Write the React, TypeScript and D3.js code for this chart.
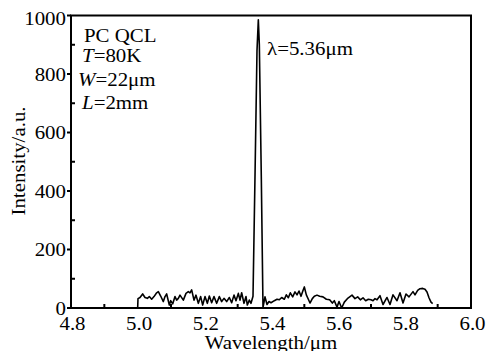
import React, { useEffect, useRef } from 'react'
import * as d3 from 'd3'

// spectrum (wavelength in um, intensity in a.u.)
const wavelength = [
  5.0, 5.001, 5.007, 5.015, 5.022, 5.029, 5.035, 5.042, 5.049, 5.057, 5.062, 5.069, 5.077, 5.082,
  5.087, 5.095, 5.099, 5.105, 5.112, 5.117, 5.122, 5.127, 5.137, 5.145, 5.152, 5.157, 5.162,
  5.169, 5.175, 5.182, 5.189, 5.195, 5.202, 5.209, 5.215, 5.222, 5.229, 5.237, 5.245, 5.252,
  5.259, 5.267, 5.275, 5.282, 5.289, 5.295, 5.302, 5.307, 5.312, 5.319, 5.325, 5.329, 5.335,
  5.34, 5.346, 5.352, 5.358, 5.362, 5.365, 5.371, 5.376, 5.382, 5.388, 5.394, 5.4, 5.41, 5.418,
  5.425, 5.432, 5.44, 5.446, 5.452, 5.458, 5.465, 5.472, 5.478, 5.484, 5.49, 5.496, 5.5, 5.506,
  5.512, 5.517, 5.524, 5.53, 5.538, 5.546, 5.556, 5.566, 5.576, 5.584, 5.59, 5.598, 5.604, 5.612,
  5.62, 5.631, 5.643, 5.652, 5.66, 5.668, 5.676, 5.684, 5.692, 5.7, 5.706, 5.712, 5.718, 5.727,
  5.736, 5.748, 5.757, 5.766, 5.778, 5.787, 5.796, 5.805, 5.814, 5.826, 5.832, 5.84, 5.847,
  5.855, 5.862, 5.868, 5.874, 5.88, 5.885,
]
const intensity = [
  0, 32, 36, 48, 36, 33, 39, 30, 39, 52, 56, 41, 22, 39,
  48, 10, 25, 14, 39, 27, 33, 44, 27, 50, 56, 52, 62,
  27, 44, 16, 39, 10, 39, 16, 41, 18, 39, 16, 39, 22,
  33, 22, 36, 18, 44, 25, 50, 27, 52, 16, 39, 10, 27,
  16, 40, 450, 880, 985, 900, 440, 2, 38, 12, 22, 18, 25, 30,
  28, 36, 30, 45, 35, 52, 38, 55, 45, 58, 40, 60, 72, 45,
  30, 17, 32, 40, 44, 40, 38, 30, 28, 17, 25, 3, 22, 0,
  20, 34, 44, 32, 38, 28, 35, 25, 30, 28, 25, 32, 28, 42,
  12, 36, 12, 45, 25, 52, 17, 48, 38, 56, 45, 60, 66,
  67, 64, 55, 35, 20, 15,
]

const xTicks = [4.8, 5.0, 5.2, 5.4, 5.6, 5.8, 6.0]
const xMinor = [4.9, 5.1, 5.3, 5.5, 5.7, 5.9]
const yTicks = [0, 200, 400, 600, 800, 1000]
const yMinor = [100, 300, 500, 700, 900]

const W = 487
const H = 351
const FONT = '"Liberation Serif", "Times New Roman", serif'

const App = () => {
  const ref = useRef<SVGSVGElement | null>(null)

  useEffect(() => {
    const svg = d3.select(ref.current)
    svg.selectAll('*').remove()

    const x = d3.scaleLinear().domain([4.8, 6.0]).range([71, 471])
    const y = d3.scaleLinear().domain([0, 1000]).range([308, 15.5])

    // text with the slightly wide look of the original
    const label = (
      tx: number,
      ty: number,
      anchor: string,
      rotate = 0
    ) => {
      const g = svg
        .append('g')
        .attr('transform', `translate(${tx},${ty}) rotate(${rotate}) scale(1.1,1)`)
      return g
        .append('text')
        .attr('text-anchor', anchor)
        .style('font-family', FONT)
        .style('font-size', '19px')
        .attr('fill', '#000')
    }

    // data line
    const pts = wavelength.map((w, i) => [w, intensity[i]] as [number, number])
    const line = d3
      .line<[number, number]>()
      .x((d) => x(d[0]))
      .y((d) => y(d[1]))

    svg
      .append('path')
      .datum(pts)
      .attr('d', line)
      .attr('fill', 'none')
      .attr('stroke', '#000')
      .attr('stroke-width', 1.6)
      .attr('stroke-linejoin', 'round')

    // frame
    svg
      .append('rect')
      .attr('x', x(4.8))
      .attr('y', y(1000))
      .attr('width', x(6.0) - x(4.8))
      .attr('height', y(0) - y(1000))
      .attr('fill', 'none')
      .attr('stroke', '#000')
      .attr('stroke-width', 2)

    // ticks
    svg
      .selectAll('.ymaj')
      .data(yTicks)
      .enter()
      .append('line')
      .attr('x1', x(4.8) - 4)
      .attr('x2', x(4.8))
      .attr('y1', (d) => y(d))
      .attr('y2', (d) => y(d))
      .attr('stroke', '#000')
      .attr('stroke-width', 2)

    svg
      .selectAll('.ymin')
      .data(yMinor)
      .enter()
      .append('line')
      .attr('x1', x(4.8))
      .attr('x2', x(4.8) + 4)
      .attr('y1', (d) => y(d))
      .attr('y2', (d) => y(d))
      .attr('stroke', '#000')
      .attr('stroke-width', 2)

    svg
      .selectAll('.xmin')
      .data(xMinor)
      .enter()
      .append('line')
      .attr('x1', (d) => x(d))
      .attr('x2', (d) => x(d))
      .attr('y1', y(0))
      .attr('y2', y(0) - 4)
      .attr('stroke', '#000')
      .attr('stroke-width', 2)

    // tick labels
    yTicks.forEach((t) => {
      label(x(4.8) - 5, y(t) + 6.5 + (t === 1000 ? 3 : 0), 'end').text(String(t))
    })
    xTicks.forEach((t) => {
      label(x(t) + 1.5, 329.5, 'middle').text(t.toFixed(1))
    })

    // axis titles
    label(271, 349, 'middle').text('Wavelength/\u03bcm')
    label(25, 161, 'middle', -90).text('Intensity/a.u.')

    // annotations
    label(84, 41.5, 'start').text('PC QCL')
    const t = label(82, 61.7, 'start')
    t.append('tspan').style('font-style', 'italic').text('T')
    t.append('tspan').text('=80K')
    const w = label(78, 86, 'start')
    w.append('tspan').style('font-style', 'italic').text('W')
    w.append('tspan').text('=22\u03bcm')
    const l = label(82, 109.3, 'start')
    l.append('tspan').style('font-style', 'italic').text('L')
    l.append('tspan').text('=2mm')

    label(267, 55, 'start').text('\u03bb=5.36\u03bcm')

    return () => {
      svg.selectAll('*').remove()
    }
  }, [])

  return (
    <svg
      ref={ref}
      width={W}
      height={H}
      style={{ position: 'absolute', left: 0, top: 0, background: '#fff', display: 'block' }}
    />
  )
}

export default App
